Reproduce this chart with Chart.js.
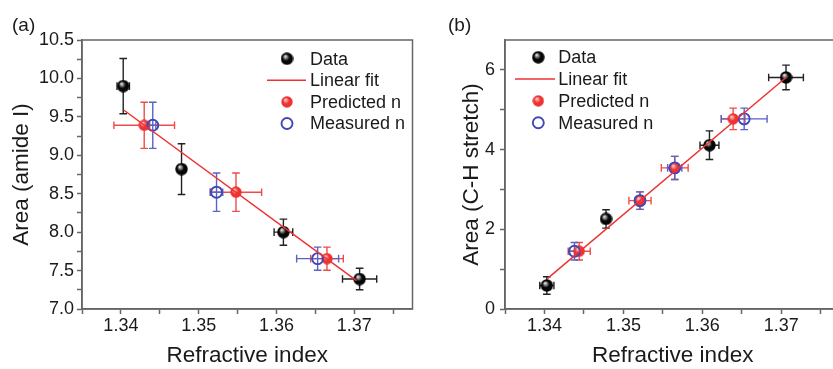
<!DOCTYPE html>
<html>
<head>
<meta charset="utf-8">
<script src="https://cdn.jsdelivr.net/npm/chart.js@4.4.1/dist/chart.umd.min.js"></script>
<style>
  html, body { margin: 0; padding: 0; background: #fff; overflow: hidden; }
  #wrap { position: relative; width: 833px; height: 369px; overflow: hidden; }
  #chartA { position: absolute; left: 0; top: 0; }
  #chartB { position: absolute; left: 420px; top: 0; }
</style>
</head>
<body>
<div id="wrap">
  <canvas id="chartA" width="420" height="369"></canvas>
  <canvas id="chartB" width="430" height="369"></canvas>
</div>
<script>
// ---- panel (a): Area (amide I) ----
const dataAx = [1.3403, 1.3478, 1.3609, 1.3707];
const dataAy = [9.90, 8.82, 8.00, 7.39];
const dataAxErr = [0.0008, 0.0004, 0.0012, 0.0022];
const dataAyErr = [0.36, 0.33, 0.17, 0.14];

const predAx = [1.3430, 1.3548, 1.3665];
const predAy = [9.39, 8.52, 7.655];
const predAxErr = [0.0039, 0.0033, 0.0021];
const predAyErr = [0.30, 0.25, 0.15];

const measAx = [1.3441, 1.3523, 1.3653];
const measAy = [9.39, 8.52, 7.655];
const measAxErr = [0.0004, 0.0008, 0.0027];
const measAyErr = [0.30, 0.25, 0.15];

const fitAx = [1.3404, 1.3703];
const fitAy = [9.586, 7.37];

// ---- panel (b): Area (C-H stretch) ----
const dataBx = [1.3403, 1.3478, 1.3609, 1.3706];
const dataBy = [0.59, 2.26, 4.11, 5.81];
const dataBxErr = [0.0009, 0.0004, 0.0012, 0.0022];
const dataByErr = [0.22, 0.23, 0.36, 0.31];

const predBx = [1.3444, 1.3521, 1.3565, 1.3639];
const predBy = [1.45, 2.72, 3.54, 4.77];
const predBxErr = [0.0014, 0.0014, 0.0017, 0.0015];
const predByErr = [0.22, 0.22, 0.29, 0.27];

const measBx = [1.3438, 1.3521, 1.3565, 1.3653];
const measBy = [1.45, 2.72, 3.54, 4.77];
const measBxErr = [0.0006, 0.0006, 0.0009, 0.0029];
const measByErr = [0.22, 0.22, 0.29, 0.27];

const fitBx = [1.3404, 1.3706];
const fitBy = [0.77, 5.81];

// ---- axes ----
const xTicks = [1.335, 1.34, 1.345, 1.35, 1.355, 1.36, 1.365, 1.37, 1.375];
const xMajor = [1.34, 1.35, 1.36, 1.37];
const xLabels = ['1.34', '1.35', '1.36', '1.37'];

const yTicksA = [7.0, 7.25, 7.5, 7.75, 8.0, 8.25, 8.5, 8.75, 9.0, 9.25, 9.5, 9.75, 10.0, 10.25, 10.5];
const yMajorA = [7.0, 7.5, 8.0, 8.5, 9.0, 9.5, 10.0, 10.5];
const yLabelsA = ['7.0', '7.5', '8.0', '8.5', '9.0', '9.5', '10.0', '10.5'];

const yTicksB = [0, 1, 2, 3, 4, 5, 6];
const yMajorB = [0, 2, 4, 6];
const yLabelsB = ['0', '2', '4', '6'];

Chart.defaults.font.family = '"Liberation Sans", Arial, sans-serif';
Chart.defaults.color = '#1a1a1a';

const RED = '#ee3232';
const BLUE = '#3f48b4';
const FRAME = '#666';

function sphere(d, base, light) {
    const c = document.createElement('canvas');
    c.width = d; c.height = d;
    const g = c.getContext('2d');
    const r = d / 2;
    const grad = g.createRadialGradient(r * 0.72, r * 0.62, 0.4, r, r, r);
    grad.addColorStop(0, light);
    grad.addColorStop(0.5, base);
    grad.addColorStop(1, base);
    g.fillStyle = grad;
    g.beginPath();
    g.arc(r, r, r - 0.3, 0, Math.PI * 2);
    g.fill();
    return c;
}
const blackBall = sphere(13, '#060606', '#e8e8e8');
const redBall = sphere(12, RED, '#ffc8c8');

const pts = (xs, ys) => xs.map((x, i) => ({ x: x, y: ys[i] }));
const labelFor = (majors, labels) => (v) => {
    const i = majors.findIndex(m => Math.abs(m - v) < 1e-9);
    return i >= 0 ? labels[i] : '';
};

// error bars, drawn under the markers
const errorBars = {
    id: 'errorBars',
    beforeDatasetsDraw(chart) {
        const { ctx, chartArea, scales: { x, y } } = chart;
        ctx.save();
        ctx.beginPath();
        ctx.rect(chartArea.left, chartArea.top, chartArea.right - chartArea.left, chartArea.bottom - chartArea.top);
        ctx.clip();
        const cap = 3.8;
        chart.data.datasets.slice().reverse().forEach(ds => {
            if (!ds.errY) return;
            ctx.strokeStyle = ds.errColor;
            ctx.lineWidth = 1.4;
            ds.data.forEach((p, i) => {
                const px = x.getPixelForValue(p.x);
                const py = y.getPixelForValue(p.y);
                const y1 = y.getPixelForValue(p.y + ds.errY[i]);
                const y2 = y.getPixelForValue(p.y - ds.errY[i]);
                const x1 = x.getPixelForValue(p.x - ds.errX[i]);
                const x2 = x.getPixelForValue(p.x + ds.errX[i]);
                ctx.beginPath();
                ctx.moveTo(px, y1); ctx.lineTo(px, y2);
                ctx.moveTo(px - cap, y1); ctx.lineTo(px + cap, y1);
                ctx.moveTo(px - cap, y2); ctx.lineTo(px + cap, y2);
                ctx.moveTo(x1, py); ctx.lineTo(x2, py);
                ctx.moveTo(x1, py - cap); ctx.lineTo(x1, py + cap);
                ctx.moveTo(x2, py - cap); ctx.lineTo(x2, py + cap);
                ctx.stroke();
            });
        });
        ctx.restore();
    }
};

// frame, in-plot legend and panel letter
const decor = {
    id: 'decor',
    afterDraw(chart, args, opts) {
        const { ctx, chartArea } = chart;
        ctx.save();
        ctx.strokeStyle = FRAME;
        ctx.lineWidth = 1.5;
        ctx.strokeRect(chartArea.left, chartArea.top, chartArea.right - chartArea.left, chartArea.bottom - chartArea.top);

        ctx.font = '18px "Liberation Sans", Arial, sans-serif';
        ctx.fillStyle = '#1a1a1a';
        ctx.textBaseline = 'middle';
        opts.order.forEach((idx, row) => {
            const ds = chart.data.datasets[idx];
            const yy = opts.y + row * opts.dy;
            if (ds.showLine) {
                ctx.strokeStyle = ds.borderColor;
                ctx.lineWidth = ds.borderWidth;
                ctx.beginPath();
                ctx.moveTo(opts.lineX1, yy); ctx.lineTo(opts.lineX2, yy);
                ctx.stroke();
            } else if (ds.pointStyle instanceof HTMLCanvasElement) {
                const im = ds.pointStyle;
                ctx.drawImage(im, opts.markerX - im.width / 2, yy - im.height / 2);
            } else {
                ctx.strokeStyle = ds.borderColor;
                ctx.lineWidth = ds.borderWidth;
                ctx.beginPath();
                ctx.arc(opts.markerX, yy, ds.pointRadius, 0, Math.PI * 2);
                ctx.stroke();
            }
            ctx.fillText(ds.label, opts.textX, yy + 1);
        });

        ctx.font = '19px "Liberation Sans", Arial, sans-serif';
        ctx.textBaseline = 'alphabetic';
        ctx.fillText(opts.panel, opts.panelX, opts.panelY);
        ctx.restore();
    }
};

function makeChart(id, d, cfg) {
    return new Chart(document.getElementById(id), {
        type: 'scatter',
        data: {
            datasets: [
                { label: 'Linear fit', data: pts(d.fitX, d.fitY), showLine: true, borderColor: RED, borderWidth: 1.5, pointRadius: 0 },
                { label: 'Measured n', data: pts(d.measX, d.measY), errX: d.measXErr, errY: d.measYErr, errColor: '#5a63c4',
                  pointStyle: 'circle', pointRadius: 5.5, borderWidth: 1.9, borderColor: BLUE, backgroundColor: 'rgba(0,0,0,0)' },
                { label: 'Predicted n', data: pts(d.predX, d.predY), errX: d.predXErr, errY: d.predYErr, errColor: '#f04a4a',
                  pointStyle: redBall, pointRadius: 6 },
                { label: 'Data', data: pts(d.dataX, d.dataY), errX: d.dataXErr, errY: d.dataYErr, errColor: '#222',
                  pointStyle: blackBall, pointRadius: 6.5 }
            ]
        },
        options: {
            responsive: false,
            animation: false,
            events: [],
            layout: { padding: { left: 0, right: cfg.padRight, top: 40, bottom: 0 } },
            plugins: {
                legend: { display: false },
                tooltip: { enabled: false },
                decor: cfg.legend
            },
            scales: {
                x: {
                    type: 'linear', min: 1.335, max: 1.3775,
                    afterBuildTicks: (s) => { s.ticks = xTicks.map(v => ({ value: v })); },
                    afterFit: (s) => { s.height = 60; },
                    ticks: { autoSkip: false, maxRotation: 0, padding: 1, font: { size: 18 }, color: '#1a1a1a',
                             callback: labelFor(xMajor, xLabels) },
                    grid: { drawOnChartArea: false, drawTicks: true, tickLength: 5, tickWidth: 1.5, tickColor: FRAME },
                    border: { display: true, color: FRAME, width: 1.5 },
                    title: { display: true, text: 'Refractive index', font: { size: 22.5 }, color: '#1a1a1a', padding: { top: 0, bottom: 0 } }
                },
                y: {
                    type: 'linear', min: cfg.yMin, max: cfg.yMax,
                    afterBuildTicks: (s) => { s.ticks = cfg.yTicks.map(v => ({ value: v })); },
                    afterFit: (s) => { s.width = cfg.yWidth; },
                    ticks: { autoSkip: false, padding: cfg.yPad, font: { size: 18 }, color: '#1a1a1a',
                             callback: labelFor(cfg.yMajor, cfg.yLabels) },
                    grid: { drawOnChartArea: false, drawTicks: true, tickLength: 5, tickWidth: 1.5, tickColor: FRAME },
                    border: { display: true, color: FRAME, width: 1.5 },
                    title: { display: true, text: cfg.yTitle, font: { size: 22.5 }, color: '#1a1a1a', padding: { top: cfg.yTitlePad, bottom: 0 } }
                }
            }
        },
        plugins: [errorBars, decor]
    });
}

makeChart('chartA', {
    dataX: dataAx, dataY: dataAy, dataXErr: dataAxErr, dataYErr: dataAyErr,
    predX: predAx, predY: predAy, predXErr: predAxErr, predYErr: predAyErr,
    measX: measAx, measY: measAy, measXErr: measAxErr, measYErr: measAyErr,
    fitX: fitAx, fitY: fitAy
}, {
    padRight: 2.3, yMin: 7.0, yMax: 10.5, yTicks: yTicksA, yMajor: yMajorA, yLabels: yLabelsA,
    yWidth: 82, yPad: 3, yTitle: 'Area (amide I)', yTitlePad: 8.5,
    legend: { order: [3, 0, 2, 1], y: 58.7, dy: 21.6, markerX: 287, textX: 310, lineX1: 267, lineX2: 306,
              panel: '(a)', panelX: 12, panelY: 31 }
});

makeChart('chartB', {
    dataX: dataBx, dataY: dataBy, dataXErr: dataBxErr, dataYErr: dataByErr,
    predX: predBx, predY: predBy, predXErr: predBxErr, predYErr: predByErr,
    measX: measBx, measY: measBy, measXErr: measBxErr, measYErr: measByErr,
    fitX: fitBx, fitY: fitBy
}, {
    padRight: 9.5, yMin: 0, yMax: 6.75, yTicks: yTicksB, yMajor: yMajorB, yLabels: yLabelsB,
    yWidth: 85, yPad: 5, yTitle: 'Area (C-H stretch)', yTitlePad: 38.2,
    legend: { order: [3, 0, 2, 1], y: 57.3, dy: 21.8, markerX: 118.3, textX: 138.3, lineX1: 95, lineX2: 135,
              panel: '(b)', panelX: 28, panelY: 31 }
});
</script>
</body>
</html>
